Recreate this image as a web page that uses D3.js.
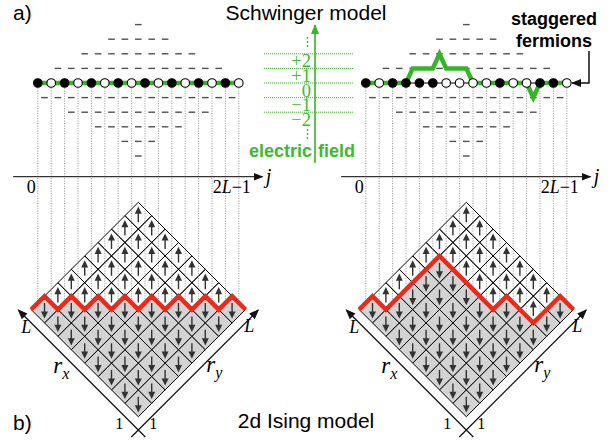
<!DOCTYPE html>
<html>
<head>
<meta charset="utf-8">
<script src="https://cdn.jsdelivr.net/npm/d3@7"></script>
<style>
  body { margin: 0; background: #fff; }
  svg { display: block; }
</style>
</head>
<body>
<svg id="fig"></svg>
<script>
// --- data ---
// occupation of the 16 staggered sites, j = 0 .. 2L-1 (1 = filled / black)
const occLeft  = [1,0,1,0,1,0,1,0,1,0,1,0,1,0,1,0]
const occRight = [1,0,1,1,1,1,0,0,0,0,1,0,0,1,1,0]
// electric field on the 15 links between neighbouring sites
const fieldLeft  = [0,0,0,0,0,0,0,0,0,0,0,0,0,0,0]
const fieldRight = [0,0,0,1,1,2,1,1,0,0,0,0,-1,0,0]
// rows of dashes (allowed field values): level, first link, last link
const dashLevels = [4,3,2,1,-1,-2,-3,-4,-5]
const dashFirst  = [7,5,3,1,0,2,4,6,7]
const dashLast   = [7,9,11,13,14,12,10,8,7]
// legend of the electric field
const legendLevels = [2,1,0,-1,-2]
const legendLabels = ["+2","+1","0","\u22121","\u22122"]
// the two panels
const panelCenters = [138.3, 466.3]
const panelOcc = [occLeft, occRight]
const panelField = [fieldLeft, fieldRight]

const width = 615
const height = 440
const nSites = 16
const L = nSites / 2
const half = 13.4            // half diagonal of one lattice cell
const yBottom = 416.7        // bottom corner of the Ising diamond
const ySites = 83
const yAxis = 176.7

const green = "#36b526"
const greenText = "#3dba2f"
const red = "#ec2a1c"
const serif = "'Liberation Serif', 'DejaVu Serif', serif"
const sans = "'Liberation Sans', Arial, sans-serif"

const svg = d3.select("#fig")
              .attr("width", width)
              .attr("height", height)
              .attr("viewBox", [0, 0, width, height])

svg.append("rect").attr("width", width).attr("height", height).attr("fill", "#fff")

const defs = svg.append("defs")
function arrowMarker(id, color, size)
{
  defs.append("marker")
      .attr("id", id)
      .attr("viewBox", "0 -5 10 10")
      .attr("refX", 9)
      .attr("markerUnits", "userSpaceOnUse")
      .attr("markerWidth", size)
      .attr("markerHeight", size)
      .attr("orient", "auto")
      .append("path")
      .attr("d", "M0,-4L10,0L0,4Z")
      .attr("fill", color)
}
arrowMarker("headBlack", "#111", 10)
arrowMarker("headGreen", green, 10)

// field level -> y
const yLevel = d3.scaleLinear().domain([0, 1]).range([ySites, ySites - 14.6])
// height of the Ising lattice (in half cells) -> y
const yLat = d3.scaleLinear().domain([0, 2 * L]).range([yBottom, yBottom - 2 * L * half])

const line = d3.line()

function drawPanel(cx, occ, field)
{
  const g = svg.append("g")
  // lattice vertex index k = 0..16 -> x ; site j sits at k = j + 0.5
  const x = d3.scaleLinear().domain([0, nSites]).range([cx - L * half, cx + L * half])

  // height profile of the domain wall (filled site = step up)
  const H = [0]
  occ.forEach(n => H.push(H[H.length - 1] + (n ? 1 : -1)))

  // ---- Ising lattice ----
  const cells = []
  for (let a = 0; a < L; a++)
    for (let b = 0; b < L; b++)
    {
      const k = L + b - a
      cells.push({ a, b, k, down: a + b + 2 <= L + H[k] })
    }

  g.append("g").selectAll("path")
   .data(cells)
   .join("path")
   .attr("d", d => line([
      [x(d.k), yLat(d.a + d.b)],
      [x(d.k + 1), yLat(d.a + d.b + 1)],
      [x(d.k), yLat(d.a + d.b + 2)],
      [x(d.k - 1), yLat(d.a + d.b + 1)]
   ]) + "Z")
   .attr("fill", d => d.down ? "#d3d3d3" : "none")
   .attr("stroke", "#000")
   .attr("stroke-width", 1)

  // spin arrows
  g.append("g").selectAll("path")
   .data(cells)
   .join("path")
   .attr("d", d => {
      const xc = x(d.k), yc = yLat(d.a + d.b + 1)
      const s = d.down ? -1 : 1
      return "M" + xc + "," + (yc + 6.5 * s) + "L" + xc + "," + (yc - 3 * s) +
             "M" + (xc - 2.4) + "," + (yc - 2.6 * s) + "L" + xc + "," + (yc - 7.5 * s) +
             "L" + (xc + 2.4) + "," + (yc - 2.6 * s) + "Z"
   })
   .attr("fill", "#333")
   .attr("stroke", "#333")
   .attr("stroke-width", 1.4)

  // dotted guides from the sites down to the domain wall
  g.append("g").selectAll("line")
   .data(d3.range(nSites))
   .join("line")
   .attr("x1", j => x(j + 0.5))
   .attr("x2", j => x(j + 0.5))
   .attr("y1", ySites)
   .attr("y2", j => yLat(L + (H[j] + H[j + 1]) / 2))
   .attr("stroke", "#888")
   .attr("stroke-width", 0.8)
   .attr("stroke-dasharray", "1.2,1.3")

  // domain wall
  g.append("path")
   .attr("d", line(H.map((h, k) => [x(k), yLat(L + h)])))
   .attr("fill", "none")
   .attr("stroke", red)
   .attr("stroke-width", 4.5)
   .attr("stroke-linejoin", "miter")

  // r_x and r_y axes
  const yCross = yBottom + 13.3
  g.append("line")
   .attr("x1", cx + 7).attr("y1", yCross + 7)
   .attr("x2", cx - 120).attr("y2", yCross - 120)
   .attr("stroke", "#111").attr("stroke-width", 1.2)
   .attr("marker-end", "url(#headBlack)")
  g.append("line")
   .attr("x1", cx - 7).attr("y1", yCross + 7)
   .attr("x2", cx + 120).attr("y2", yCross - 120)
   .attr("stroke", "#111").attr("stroke-width", 1.2)
   .attr("marker-end", "url(#headBlack)")

  const it = (t, xx, yy, size) => g.append("text").attr("x", xx).attr("y", yy)
        .attr("font-family", serif).attr("font-style", "italic")
        .attr("font-size", size).attr("text-anchor", "middle").text(t)
  it("L", cx - 112, 333, 18)
  it("L", cx + 111, 332, 18)
  const rx = g.append("text").attr("x", cx - 85).attr("y", 373)
              .attr("font-family", serif).attr("font-style", "italic").attr("font-size", 23)
  rx.append("tspan").text("r")
  rx.append("tspan").attr("font-size", 16).attr("dy", 6).text("x")
  const ry = g.append("text").attr("x", cx + 68).attr("y", 372)
              .attr("font-family", serif).attr("font-style", "italic").attr("font-size", 23)
  ry.append("tspan").text("r")
  ry.append("tspan").attr("font-size", 16).attr("dy", 6).text("y")
  g.append("text").attr("x", cx - 19).attr("y", 429).attr("text-anchor", "middle")
   .attr("font-family", serif).attr("font-size", 16).text("1")
  g.append("text").attr("x", cx + 15).attr("y", 429).attr("text-anchor", "middle")
   .attr("font-family", serif).attr("font-size", 16).text("1")

  // ---- j axis ----
  g.append("line")
   .attr("x1", x(0) - 18).attr("x2", x(nSites) + 17)
   .attr("y1", yAxis).attr("y2", yAxis)
   .attr("stroke", "#333").attr("stroke-width", 1.3)
   .attr("marker-end", "url(#headBlack)")
  it("j", x(nSites) + 23, 183, 20)
  g.append("text").attr("x", x(0.5) - 6.5).attr("y", 193).attr("text-anchor", "middle")
   .attr("font-family", serif).attr("font-size", 18).text("0")
  const tl = g.append("text").attr("x", x(nSites - 0.5) - 7).attr("y", 193).attr("text-anchor", "middle")
              .attr("font-family", serif).attr("font-size", 18)
  tl.append("tspan").text("2")
  tl.append("tspan").attr("font-style", "italic").text("L")
  tl.append("tspan").text("\u22121")

  // ---- Schwinger chain ----
  const dashes = []
  dashLevels.forEach((lv, i) => {
    for (let l = dashFirst[i]; l <= dashLast[i]; l++) dashes.push({ lv, l })
  })
  g.append("g").selectAll("line")
   .data(dashes)
   .join("line")
   .attr("x1", d => x(d.l + 1) - 3.3)
   .attr("x2", d => x(d.l + 1) + 3.3)
   .attr("y1", d => yLevel(d.lv))
   .attr("y2", d => yLevel(d.lv))
   .attr("stroke", "#505050")
   .attr("stroke-width", 1.4)

  g.append("line")
   .attr("x1", x(0.5)).attr("x2", x(nSites - 0.5))
   .attr("y1", ySites).attr("y2", ySites)
   .attr("stroke", "#000").attr("stroke-width", 1)

  // field line: vertices at sites and link midpoints
  const E = j => (j < 0 || j >= field.length) ? 0 : field[j]
  const pts = []
  for (let j = 0; j < nSites; j++)
  {
    const a = E(j - 1), b = E(j)
    pts.push([x(j + 0.5), yLevel(Math.abs(a) < Math.abs(b) ? a : b)])
    if (j < field.length) pts.push([x(j + 1), yLevel(field[j])])
  }
  g.append("path")
   .attr("d", line(pts))
   .attr("fill", "none")
   .attr("stroke", green)
   .attr("stroke-width", 4.5)
   .attr("stroke-linejoin", "miter")

  g.append("g").selectAll("circle")
   .data(occ)
   .join("circle")
   .attr("cx", (n, j) => x(j + 0.5))
   .attr("cy", ySites)
   .attr("r", 4.3)
   .attr("fill", n => n ? "#000" : "#fff")
   .attr("stroke", "#000")
   .attr("stroke-width", 1.1)
}

panelCenters.forEach((cx, i) => drawPanel(cx, panelOcc[i], panelField[i]))

// ---- electric field legend ----
const lg = svg.append("g")
lg.selectAll("line")
  .data(legendLevels)
  .join("line")
  .attr("x1", 264).attr("x2", 353)
  .attr("y1", d => yLevel(d)).attr("y2", d => yLevel(d))
  .attr("stroke", green).attr("stroke-width", 1)
  .attr("stroke-dasharray", "1,1")
lg.selectAll("text.lab")
  .data(legendLevels)
  .join("text")
  .attr("class", "lab")
  .attr("x", 311)
  .attr("y", d => yLevel(d) + 13.5)
  .attr("text-anchor", "end")
  .attr("font-family", serif)
  .attr("font-size", 18.5)
  .attr("fill", greenText)
  .text((d, i) => legendLabels[i])
lg.append("line")
  .attr("x1", 315).attr("x2", 315)
  .attr("y1", 163).attr("y2", 25)
  .attr("stroke", green).attr("stroke-width", 1.6)
  .attr("marker-end", "url(#headGreen)")
lg.selectAll("circle")
  .data([38, 42, 46, 130, 134, 138])
  .join("circle")
  .attr("cx", 307.5).attr("cy", d => d).attr("r", 0.9)
  .attr("fill", green)
lg.append("text").attr("x", 312).attr("y", 157).attr("text-anchor", "end")
  .attr("font-family", sans).attr("font-weight", "bold").attr("font-size", 18)
  .attr("fill", greenText).text("electric")
lg.append("text").attr("x", 318).attr("y", 157)
  .attr("font-family", sans).attr("font-weight", "bold").attr("font-size", 18)
  .attr("fill", greenText).text("field")

// ---- staggered fermions note ----
svg.append("text").attr("x", 554).attr("y", 25).attr("text-anchor", "middle")
   .attr("font-family", sans).attr("font-weight", "bold").attr("font-size", 18)
   .text("staggered")
svg.append("text").attr("x", 554).attr("y", 47).attr("text-anchor", "middle")
   .attr("font-family", sans).attr("font-weight", "bold").attr("font-size", 18)
   .text("fermions")
svg.append("path")
   .attr("d", "M589,51V" + ySites + "H572")
   .attr("fill", "none").attr("stroke", "#111").attr("stroke-width", 1.5)
   .attr("marker-end", "url(#headBlack)")

// ---- panel titles ----
const title = (t, xx, yy, anchor) => svg.append("text").attr("x", xx).attr("y", yy)
   .attr("text-anchor", anchor).attr("font-family", sans).attr("font-size", 21).text(t)
title("a)", 13, 19.5, "start")
title("Schwinger model", 306, 19.5, "middle")
title("b)", 13, 430, "start")
title("2d Ising model", 306, 428, "middle")
</script>
</body>
</html>
